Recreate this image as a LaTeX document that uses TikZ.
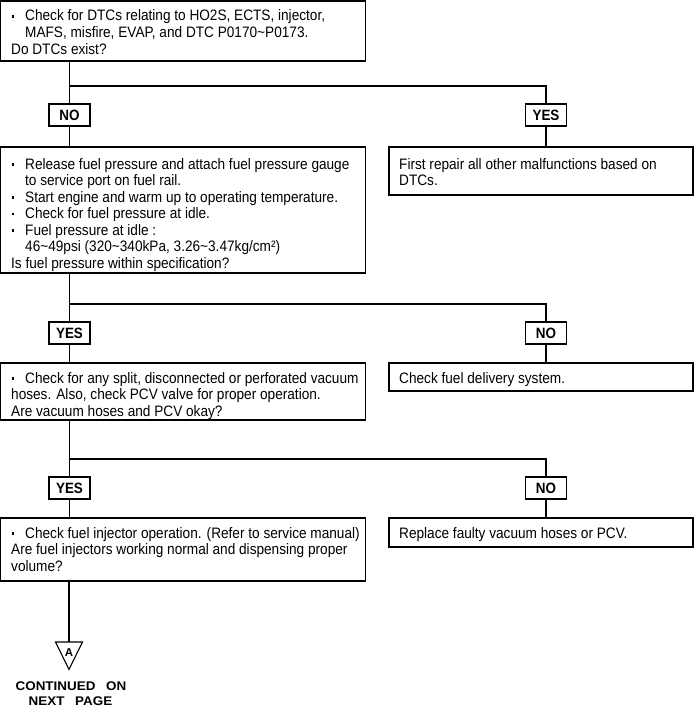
\documentclass[tikz,border=0pt]{standalone}
\usepackage{fontspec}
\setmainfont{Liberation Sans}[FakeStretch=0.9]
\newfontfamily\widesans{Liberation Sans}
\usetikzlibrary{calc}
\newcommand\bul{\makebox[14bp][l]{\hspace{0.6bp}\rule[3.3bp]{2.6bp}{2.6bp}}}
\newcommand\ind{\hspace*{14bp}}
\newcommand\bodytxt[2]{\parbox[t]{#1}{\fontsize{15.2}{16.6}\selectfont\raggedright #2}}
\begin{document}
\begin{tikzpicture}[x=1bp,y=-1bp,
  box/.style={draw, line width=1.1bp, anchor=north west, inner sep=0pt, outer sep=0pt},
  txt/.style={anchor=base west, inner sep=0pt},
  lbl/.style={draw, line width=1.1bp, fill=white, minimum width=41bp, minimum height=22bp, inner sep=0pt,
              font=\bfseries\fontsize{15}{16}\selectfont},
  conn/.style={line width=1.1bp},
  foot/.style={anchor=base, inner sep=0pt, font=\widesans\bfseries\fontsize{12.6}{14}\selectfont}]
\useasboundingbox (0,0) rectangle (694,708);

% boxes
\node[box, minimum width=365bp, minimum height=60bp] (b1) at (0.7,1) {};
\node[box, minimum width=365bp, minimum height=126bp] (b2) at (0.7,147) {};
\node[box, minimum width=304bp, minimum height=48bp] (r2) at (389,147) {};
\node[box, minimum width=365bp, minimum height=57bp] (b3) at (0.7,363) {};
\node[box, minimum width=304bp, minimum height=28bp] (r3) at (389,363) {};
\node[box, minimum width=365bp, minimum height=63bp] (b4) at (0.7,518) {};
\node[box, minimum width=304bp, minimum height=29bp] (r4) at (389,518) {};

% texts
\node[txt] (t1) at (11,21) {\bodytxt{350bp}{\bul Check for DTCs relating to HO2S, ECTS, injector,\\
\ind MAFS, misfire, EVAP, and DTC P0170\textasciitilde P0173.\\
Do DTCs exist?}};
\node[txt] (t2) at (11,169) {\bodytxt{352bp}{\bul Release fuel pressure and attach fuel pressure gauge\\
\ind to service port on fuel rail.\\
\bul Start engine and warm up to operating temperature.\\
\bul Check for fuel pressure at idle.\\
\bul Fuel pressure at idle :\\
\ind 46\textasciitilde49psi (320\textasciitilde340kPa, 3.26\textasciitilde3.47kg/cm²)\\
Is fuel pressure within specification?}};
\node[txt] (tr2) at (399,169) {\bodytxt{290bp}{First repair all other malfunctions based on\\ DTCs.}};
\node[txt] (t3) at (11,383) {\bodytxt{354bp}{\bul Check for any split, disconnected or perforated vacuum\\
hoses. Also, check PCV valve for proper operation.\\
Are vacuum hoses and PCV okay?}};
\node[txt] (tr3) at (399,383) {\bodytxt{290bp}{Check fuel delivery system.}};
\node[txt] (t4) at (11,538) {\bodytxt{354bp}{\bul Check fuel injector operation. (Refer to service manual)\\
Are fuel injectors working normal and dispensing proper\\
volume?}};
\node[txt] (tr4) at (399,538) {\bodytxt{290bp}{Replace faulty vacuum hoses or PCV.}};

% labels
\node[lbl] (n1) at (69.5,115) {NO};
\node[lbl] (y1) at (546,115) {YES};
\node[lbl] (y2) at (69.5,333) {YES};
\node[lbl] (n2) at (546,333) {NO};
\node[lbl] (y3) at (69.5,488) {YES};
\node[lbl] (n3) at (546,488) {NO};

% junctions
\coordinate (j1) at (69.5,86);
\coordinate (k1) at (546,86);
\coordinate (j2) at (69.5,304);
\coordinate (k2) at (546,304);
\coordinate (j3) at (69.5,459);
\coordinate (k3) at (546,459);

\draw[conn] (j1 |- b1.south) -- (j1) -- (k1) -- (y1);
\draw[conn] (j1) -- (n1);
\draw[conn] (n1) -- (n1 |- b2.north);
\draw[conn] (y1) -- (y1 |- r2.north);

\draw[conn] (j2 |- b2.south) -- (j2) -- (k2) -- (n2);
\draw[conn] (j2) -- (y2);
\draw[conn] (y2) -- (y2 |- b3.north);
\draw[conn] (n2) -- (n2 |- r3.north);

\draw[conn] (j3 |- b3.south) -- (j3) -- (k3) -- (n3);
\draw[conn] (j3) -- (y3);
\draw[conn] (y3) -- (y3 |- b4.north);
\draw[conn] (n3) -- (n3 |- r4.north);

% off-page connector
\coordinate (tt) at (69,642);
\draw[conn] (tt |- b4.south) -- (tt);
\draw[line width=1.1bp, line join=miter] (55.5,642) -- (82.5,642) -- (69,669.5) -- cycle;
\node[inner sep=0pt, font=\widesans\bfseries\fontsize{11.5}{12}\selectfont] (a) at (69,653) {A};
\node[foot] (c1) at (71,690) {\scalebox{1.07}[1]{CONTINUED\hspace{10bp}ON}};
\node[foot] (c2) at (70.5,705) {\scalebox{1.07}[1]{NEXT\hspace{10bp}PAGE}};
\end{tikzpicture}
\end{document}
